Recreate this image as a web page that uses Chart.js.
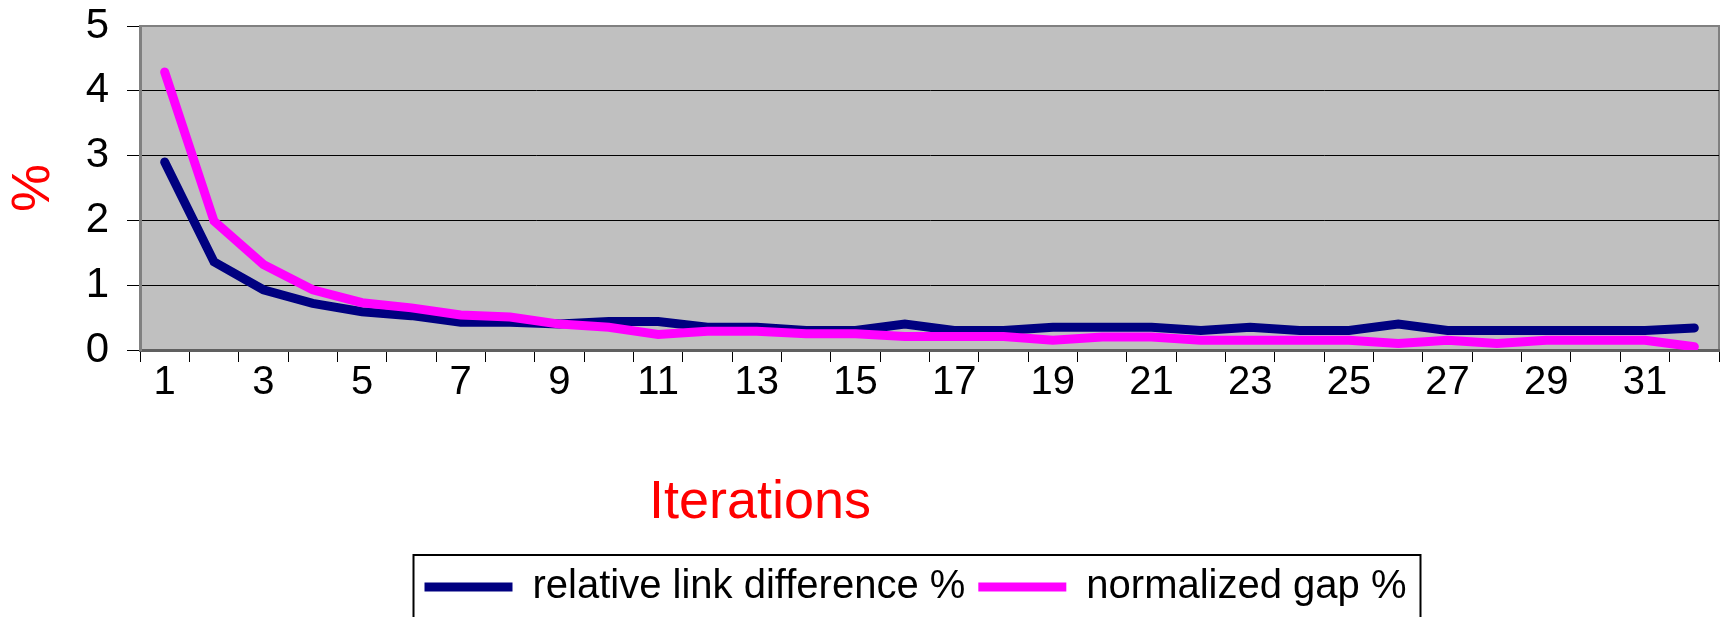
<!DOCTYPE html>
<html>
<head>
<meta charset="utf-8">
<title>Iterations</title>
<script src="https://cdn.jsdelivr.net/npm/chart.js@4.4.1/dist/chart.umd.min.js"></script>
<style>
  html, body { margin: 0; padding: 0; background: #fff; }
  canvas { display: block; }
</style>
</head>
<body>
<canvas id="chart" width="1728" height="617"></canvas>
<script>
// --- Data ---

const iterations = ['1', '2', '3', '4', '5', '6', '7', '8', '9', '10', '11', '12', '13', '14', '15', '16',
  '17', '18', '19', '20', '21', '22', '23', '24', '25', '26', '27', '28', '29', '30', '31', '32']

const linkDiff = [2.9, 1.36, 0.93, 0.72, 0.59, 0.53, 0.43, 0.43, 0.40, 0.44, 0.44, 0.35, 0.35, 0.30, 0.30, 0.40,
  0.30, 0.30, 0.35, 0.35, 0.35, 0.30, 0.35, 0.30, 0.30, 0.40, 0.30, 0.30, 0.30, 0.30, 0.30, 0.34]

const normGap = [4.29, 1.99, 1.32, 0.93, 0.73, 0.65, 0.54, 0.51, 0.40, 0.35, 0.24, 0.29, 0.29, 0.25, 0.25, 0.21,
  0.21, 0.21, 0.15, 0.20, 0.20, 0.15, 0.15, 0.15, 0.15, 0.10, 0.15, 0.10, 0.15, 0.15, 0.15, 0.05]

const seriesNames = ['relative link difference %', 'normalized gap %']
const seriesColors = ['#000080', '#ff00ff']

const yMin = 0
const yMax = 5
const yStep = 1

const FONT = "'Liberation Sans', Arial, sans-serif"

Chart.defaults.font.family = FONT
Chart.defaults.color = '#000'

// --- Plugins: grey plot background, axis title under the x axis, legend frame ---

const plotFrame = {
  id: 'plotFrame',
  beforeDraw(chart) {
    const { ctx, chartArea: a } = chart
    ctx.save()
    ctx.fillStyle = '#c0c0c0'
    ctx.fillRect(a.left, a.top, a.width, a.height)
    ctx.strokeStyle = '#808080'
    ctx.lineWidth = 2
    ctx.strokeRect(a.left, a.top, a.width, a.height)
    ctx.restore()
  }
}

const extras = {
  id: 'extras',
  // the legend block is a bit left of the plot centre in the original
  afterLayout(chart) {
    const lg = chart.legend
    if (!lg) return
    lg.left -= 14
    lg.right -= 14
  },
  afterDraw(chart) {
    const { ctx, chartArea: a } = chart
    ctx.save()

    // "Iterations" sits left of the plot centre in the original
    ctx.font = '54px ' + FONT
    ctx.fillStyle = '#ff0000'
    ctx.textAlign = 'center'
    ctx.textBaseline = 'alphabetic'
    ctx.fillText('Iterations', a.left + 620, a.bottom + 168)

    // box round the legend items
    const boxes = chart.legend.legendHitBoxes
    if (boxes && boxes.length) {
      const first = boxes[0]
      const last = boxes[boxes.length - 1]
      const x0 = first.left - 11
      const x1 = last.left + last.width + 14
      ctx.strokeStyle = '#000'
      ctx.lineWidth = 2
      ctx.strokeRect(x0, chart.legend.top + 1, x1 - x0, chart.height)
    }
    ctx.restore()
  }
}

// --- Chart ---

new Chart(document.getElementById('chart'), {
  type: 'line',
  data: {
    labels: iterations,
    datasets: [
      {
        label: seriesNames[0],
        data: linkDiff,
        borderColor: seriesColors[0],
        backgroundColor: seriesColors[0],
        order: 2
      },
      {
        label: seriesNames[1],
        data: normGap,
        borderColor: seriesColors[1],
        backgroundColor: seriesColors[1],
        order: 1
      }
    ].map(ds => Object.assign({
      borderWidth: 9,
      tension: 0,
      pointRadius: 0,
      pointHoverRadius: 0,
      borderCapStyle: 'round'
    }, ds))
  },
  options: {
    responsive: false,
    animation: false,
    events: [],
    layout: { padding: { top: 26, right: 9, left: 0, bottom: 0 } },
    plugins: {
      tooltip: { enabled: false },
      title: { display: false },
      legend: {
        position: 'bottom',
        fullSize: false,
        labels: {
          usePointStyle: true,
          pointStyle: 'line',
          pointStyleWidth: 88,
          boxHeight: 9,
          padding: 13,
          color: '#000',
          font: { size: 40 },
          sort: (a, b) => a.datasetIndex - b.datasetIndex
        }
      }
    },
    scales: {
      x: {
        offset: true,
        afterFit: scale => { scale.height = 204 },
        grid: {
          offset: true,
          drawOnChartArea: false,
          drawTicks: true,
          tickLength: 12,
          tickColor: '#000',
          tickWidth: 1
        },
        border: { display: true, color: '#606060', width: 3 },
        ticks: {
          autoSkip: false,
          maxRotation: 0,
          padding: -3,
          color: '#000',
          font: { size: 40 },
          callback: function (val, idx) { return idx % 2 === 0 ? this.getLabelForValue(val) : '' }
        }
      },
      y: {
        min: yMin,
        max: yMax,
        afterFit: scale => {
          scale.width = 140
          scale.paddingTop = 0
          scale.paddingBottom = 0
        },
        grid: {
          color: ctx => (ctx.tick && ctx.tick.value === yMax) ? 'rgba(0,0,0,0)' : '#000',
          lineWidth: 1,
          tickLength: 13,
          tickColor: '#000'
        },
        border: { display: true, color: '#808080', width: 3 },
        ticks: {
          stepSize: yStep,
          padding: 18,
          color: '#000',
          font: { size: 42 }
        },
        title: {
          display: true,
          text: '%',
          color: '#ff0000',
          font: { size: 54, lineHeight: 1 },
          padding: { top: 7, bottom: 0 }
        }
      }
    }
  },
  plugins: [plotFrame, extras]
})
</script>
</body>
</html>
